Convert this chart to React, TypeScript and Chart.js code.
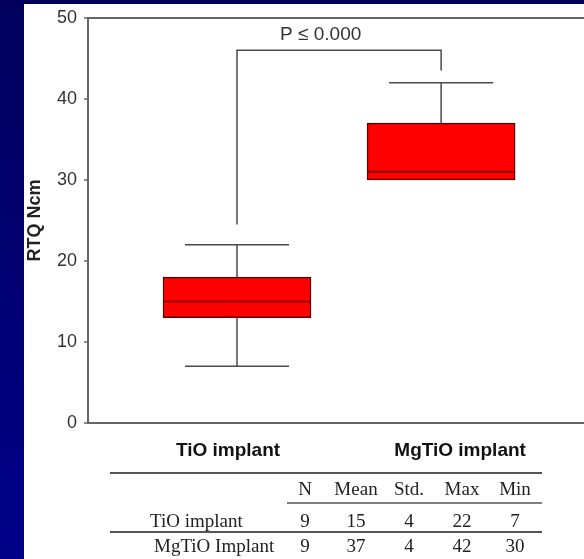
import React, { useEffect, useRef } from 'react';
import { Chart, registerables } from 'chart.js';

Chart.register(...registerables);

// ---- data ----
const groups = ['TiO implant', 'MgTiO implant'];
const groupPositions = [1, 2];
const groupLabelPositions = [0.956, 2.093];
const whiskerLow = [7, 30];
const boxLow = [13, 30];
const medians = [15, 31];
const boxHigh = [18, 37];
const whiskerHigh = [22, 42];

const yMin = 0;
const yMax = 50;
const yStep = 10;
const yAxisTitle = 'RTQ Ncm';

const bracketLegEnds = [24.5, 43.5];
const bracketLevel = 46;
const pValueText = 'P \u2264 0.000';
const pValueX = 1.41;
const pValueY = 47.9;

const tableColumns = ['N', 'Mean', 'Std.', 'Max', 'Min'];
const tableRowLabels = ['TiO implant', 'MgTiO Implant'];
const tioStats = [9, 15, 4, 22, 7];
const mgtioStats = [9, 37, 4, 42, 30];

// ---- style / layout constants ----
const W = 584;
const H = 559;
const AXIS = '#666666';
const INK = '#222222';
const capHalfWidth = 0.255;
const sans = '"Liberation Sans", Arial, sans-serif';
const serif = '"Liberation Serif", "Times New Roman", serif';

const backgroundPlugin = {
  id: 'slideBackground',
  beforeDraw(chart: any) {
    const ctx = chart.ctx;
    ctx.save();
    const g = ctx.createLinearGradient(0, 0, 0, H);
    g.addColorStop(0, '#00005c');
    g.addColorStop(1, '#000088');
    ctx.fillStyle = g;
    ctx.fillRect(0, 0, W, H);
    ctx.fillStyle = '#ffffff';
    ctx.fillRect(24, 4, W - 24, H - 4);
    ctx.restore();
  },
};

const boxPlotPlugin = {
  id: 'boxExtras',
  afterDatasetsDraw(chart: any) {
    const ctx = chart.ctx;
    const xs = chart.scales.x;
    const ys = chart.scales.y;
    const meta = chart.getDatasetMeta(0);
    ctx.save();
    ctx.lineCap = 'butt';
    // whiskers
    ctx.strokeStyle = '#4a4a4a';
    ctx.lineWidth = 1.5;
    groupPositions.forEach((p, i) => {
      const cx = xs.getPixelForValue(p);
      const x0 = xs.getPixelForValue(p - capHalfWidth);
      const x1 = xs.getPixelForValue(p + capHalfWidth);
      ctx.beginPath();
      ctx.moveTo(cx, ys.getPixelForValue(boxHigh[i]));
      ctx.lineTo(cx, ys.getPixelForValue(whiskerHigh[i]));
      ctx.moveTo(cx, ys.getPixelForValue(boxLow[i]));
      ctx.lineTo(cx, ys.getPixelForValue(whiskerLow[i]));
      ctx.moveTo(x0, ys.getPixelForValue(whiskerHigh[i]));
      ctx.lineTo(x1, ys.getPixelForValue(whiskerHigh[i]));
      if (whiskerLow[i] < boxLow[i]) {
        ctx.moveTo(x0, ys.getPixelForValue(whiskerLow[i]));
        ctx.lineTo(x1, ys.getPixelForValue(whiskerLow[i]));
      }
      ctx.stroke();
    });
    // medians
    ctx.strokeStyle = '#8a0000';
    ctx.lineWidth = 2;
    meta.data.forEach((bar: any, i: number) => {
      const y = ys.getPixelForValue(medians[i]);
      ctx.beginPath();
      ctx.moveTo(bar.x - bar.width / 2, y);
      ctx.lineTo(bar.x + bar.width / 2, y);
      ctx.stroke();
    });
    // significance bracket
    ctx.strokeStyle = '#4a4a4a';
    ctx.lineWidth = 1.5;
    const bx0 = xs.getPixelForValue(groupPositions[0]);
    const bx1 = xs.getPixelForValue(groupPositions[1]);
    const by = ys.getPixelForValue(bracketLevel);
    ctx.beginPath();
    ctx.moveTo(bx0, ys.getPixelForValue(bracketLegEnds[0]));
    ctx.lineTo(bx0, by);
    ctx.lineTo(bx1, by);
    ctx.lineTo(bx1, ys.getPixelForValue(bracketLegEnds[1]));
    ctx.stroke();
    ctx.fillStyle = '#333333';
    ctx.font = `19px ${sans}`;
    ctx.textAlign = 'center';
    ctx.textBaseline = 'middle';
    ctx.fillText(pValueText, xs.getPixelForValue(pValueX), ys.getPixelForValue(pValueY));
    ctx.restore();
  },
};

const tablePlugin = {
  id: 'statsTable',
  afterDraw(chart: any) {
    const ctx = chart.ctx;
    ctx.save();
    const colX = [305, 356, 409, 462, 515];
    const labelX = [150, 154];
    const headerY = 490;
    const rowY = [522, 547];
    ctx.strokeStyle = '#555555';
    ctx.lineWidth = 2;
    ctx.beginPath();
    ctx.moveTo(110, 473);
    ctx.lineTo(542, 473);
    ctx.stroke();
    ctx.lineWidth = 1.5;
    ctx.beginPath();
    ctx.moveTo(287, 503);
    ctx.lineTo(542, 503);
    ctx.stroke();
    ctx.lineWidth = 2;
    ctx.beginPath();
    ctx.moveTo(110, 532);
    ctx.lineTo(542, 532);
    ctx.stroke();

    ctx.fillStyle = INK;
    ctx.font = `19px ${serif}`;
    ctx.textBaseline = 'middle';
    ctx.textAlign = 'center';
    tableColumns.forEach((c, i) => ctx.fillText(c, colX[i], headerY));
    [tioStats, mgtioStats].forEach((row, r) => {
      ctx.textAlign = 'left';
      ctx.fillText(tableRowLabels[r], labelX[r], rowY[r]);
      ctx.textAlign = 'center';
      row.forEach((v, i) => ctx.fillText(String(v), colX[i], rowY[r]));
    });
    ctx.restore();
  },
};

export default function App() {
  const ref = useRef<HTMLCanvasElement | null>(null);
  useEffect(() => {
    if (!ref.current) return;
    const chart = new Chart(ref.current, {
      type: 'bar',
      data: {
        datasets: [
          {
            data: groupPositions.map((p, i) => ({ x: p, y: [boxLow[i], boxHigh[i]] })) as any,
            backgroundColor: '#ff0000',
            borderColor: '#5a0000',
            borderWidth: 1.5,
            borderSkipped: false,
            barThickness: 148,
          },
        ],
      },
      options: {
        responsive: false,
        animation: false,
        devicePixelRatio: 1,
        layout: { padding: { top: 15, left: 0, right: 0, bottom: 0 } },
        plugins: { legend: { display: false }, tooltip: { enabled: false } },
        scales: {
          x: {
            type: 'linear',
            offset: false,
            min: 0.27,
            max: 2.7,
            grid: { display: false, drawTicks: false, offset: false },
            border: { display: true, color: AXIS, width: 2 },
            afterBuildTicks: (scale: any) => {
              scale.ticks = groupLabelPositions.map((v) => ({ value: v }));
            },
            afterFit: (scale: any) => {
              scale.height = 136;
            },
            ticks: {
              callback: (_v: any, i: number) => groups[i],
              font: { family: sans, size: 19, weight: 'bold' },
              color: '#111111',
              padding: 16,
              maxRotation: 0,
              autoSkip: false,
            },
          },
          y: {
            type: 'linear',
            min: yMin,
            max: yMax,
            afterFit: (scale: any) => {
              scale.width = 88;
            },
            ticks: {
              stepSize: yStep,
              font: { family: sans, size: 18 },
              color: '#333333',
              padding: 7,
            },
            grid: {
              color: (c: any) => (c.tick && c.tick.value === yMax ? AXIS : 'rgba(0,0,0,0)'),
              lineWidth: 2,
              tickColor: AXIS,
              tickWidth: 1.5,
              tickLength: 4,
              drawTicks: true,
            },
            border: { display: true, color: AXIS, width: 2 },
            title: {
              display: true,
              text: yAxisTitle,
              font: { family: sans, size: 18, weight: 'bold' },
              color: INK,
              padding: { top: 24, bottom: 0 },
            },
          },
        },
      },
      plugins: [backgroundPlugin, boxPlotPlugin, tablePlugin],
    } as any);
    return () => chart.destroy();
  }, []);
  return (
    <div style={{ position: 'fixed', left: 0, top: 0, width: W, height: H }}>
      <canvas ref={ref} width={W} height={H} style={{ display: 'block', width: W, height: H }} />
    </div>
  );
}
